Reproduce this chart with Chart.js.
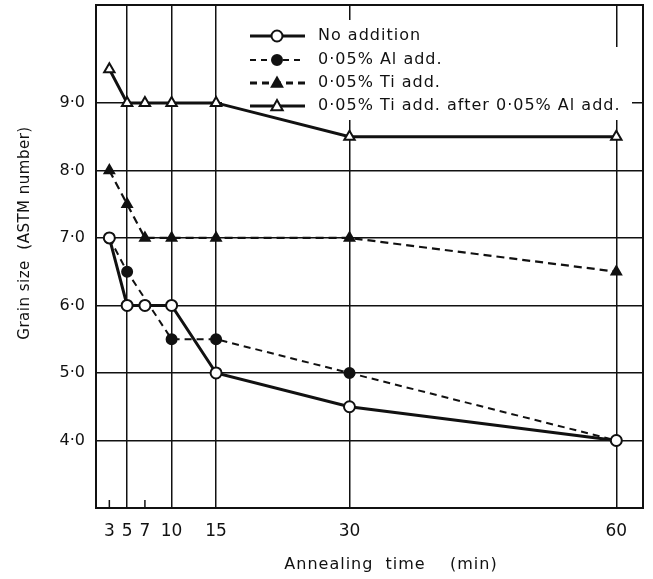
<!DOCTYPE html>
<html>
<head>
<meta charset="utf-8">
<script src="https://cdn.jsdelivr.net/npm/chart.js@4/dist/chart.umd.min.js"></script>
<style>
    html, body { margin: 0; padding: 0; background: #fff; }
    #wrap { width: 653px; height: 579px; position: relative; }
</style>
</head>
<body>
<div id="wrap"><canvas id="grainChart"></canvas></div>
<script>
// annealing times (min)
const times = [3, 5, 7, 10, 15, 30, 60];

// grain size (ASTM number) per series, null = no point
const noAddition = [7.0, 6.0, 6.0, 6.0, 5.0, 4.5, 4.0];
const alAdd      = [7.0, 6.5, null, 5.5, 5.5, 5.0, 4.0];
const tiAdd      = [8.0, 7.5, 7.0, 7.0, 7.0, 7.0, 6.5];
const tiAfterAl  = [9.5, 9.0, 9.0, 9.0, 9.0, 8.5, 8.5];

const seriesNames = [
    "No addition",
    "0·05% Al add.",
    "0·05% Ti add.",
    "0·05% Ti add. after 0·05% Al add."
];

const yTicks = [4, 5, 6, 7, 8, 9];
const xTicks = [3, 5, 7, 10, 15, 30, 60];

const FONT = "'DejaVu Sans', sans-serif";
const INK = "#111";

function toPoints(values) {
    return times
        .map((t, i) => ({ x: t, y: values[i] }))
        .filter(p => p.y !== null);
}

// legend look for each series
const legendStyles = [
    { dash: [], width: 3, marker: "circle", fill: "#fff", r: 5.5 },
    { dash: [6, 5], width: 2, marker: "circle", fill: INK, r: 5 },
    { dash: [7, 5], width: 3, marker: "triangle", fill: INK, r: 5.5 },
    { dash: [], width: 3, marker: "triangle", fill: "#fff", r: 6 }
];

function drawMarker(ctx, kind, x, y, r, fill) {
    ctx.save();
    ctx.setLineDash([]);
    ctx.lineWidth = 2;
    ctx.strokeStyle = INK;
    ctx.fillStyle = fill;
    ctx.beginPath();
    if (kind === "circle") {
        ctx.arc(x, y, r, 0, Math.PI * 2);
    } else {
        ctx.moveTo(x, y - r);
        ctx.lineTo(x + r * 0.95, y + r * 0.7);
        ctx.lineTo(x - r * 0.95, y + r * 0.7);
        ctx.closePath();
    }
    ctx.fill();
    ctx.stroke();
    ctx.restore();
}

/**
 * Legend box inside the plot (white, hides grid lines)
 */
const insideLegend = {
    id: "insideLegend",
    beforeDatasetsDraw(chart) {
        const ctx = chart.ctx;
        ctx.save();
        ctx.fillStyle = "#fff";
        ctx.fillRect(222, 20, 220, 100);
        ctx.fillRect(440, 47, 192, 73);

        const rows = [36, 60, 83, 106];
        rows.forEach((y, i) => {
            const s = legendStyles[i];
            ctx.strokeStyle = INK;
            ctx.lineWidth = s.width;
            ctx.setLineDash(s.dash);
            ctx.beginPath();
            ctx.moveTo(250, y);
            ctx.lineTo(305, y);
            ctx.stroke();
            drawMarker(ctx, s.marker, 277, y, s.r, s.fill);

            ctx.fillStyle = INK;
            ctx.font = `16px ${FONT}`;
            ctx.letterSpacing = "1px";
            ctx.textBaseline = "middle";
            ctx.textAlign = "left";
            ctx.fillText(seriesNames[i], 318, y);
        });
        ctx.restore();
    }
};

/**
 * Frame, small ticks and axis titles
 */
const frameAndTitles = {
    id: "frameAndTitles",
    afterDraw(chart) {
        const { ctx, chartArea: a, scales } = chart;
        ctx.save();
        ctx.strokeStyle = INK;
        ctx.lineWidth = 2;
        ctx.setLineDash([]);
        ctx.strokeRect(a.left, a.top, a.right - a.left, a.bottom - a.top);

        // short inward ticks at 3 and 7 min
        ctx.lineWidth = 1.5;
        [3, 7].forEach(v => {
            const x = scales.x.getPixelForValue(v);
            ctx.beginPath();
            ctx.moveTo(x, a.bottom);
            ctx.lineTo(x, a.bottom - 8);
            ctx.stroke();
        });

        ctx.fillStyle = INK;
        ctx.font = `16px ${FONT}`;
        ctx.letterSpacing = "1px";
        ctx.textAlign = "center";
        ctx.textBaseline = "middle";
        ctx.fillText("Annealing  time    (min)", 391, 565);

        ctx.font = `15px ${FONT}`;
        ctx.letterSpacing = "0.5px";
        ctx.translate(25, 233);
        ctx.rotate(-Math.PI / 2);
        ctx.fillText("Grain size  (ASTM number)", 0, 0);
        ctx.restore();
    }
};

function makeDataset(label, values, opts) {
    return Object.assign({
        label: label,
        data: toPoints(values),
        borderColor: INK,
        pointBorderColor: INK,
        pointBorderWidth: 2,
        tension: 0,
        fill: false
    }, opts);
}

// no label padding around the plot, the frame sits where we say
function noScalePadding(s) {
    s.paddingTop = 0;
    s.paddingBottom = 0;
    s.paddingLeft = 0;
    s.paddingRight = 0;
}

function initChart() {
    const ctx = document.getElementById("grainChart");
    if (!ctx) return;

    new Chart(ctx, {
        type: "line",
        data: {
            datasets: [
                makeDataset(seriesNames[0], noAddition, {
                    borderWidth: 3,
                    pointStyle: "circle",
                    pointRadius: 5.5,
                    pointBackgroundColor: "#fff"
                }),
                makeDataset(seriesNames[1], alAdd, {
                    borderWidth: 2,
                    borderDash: [7, 5],
                    pointStyle: "circle",
                    pointRadius: 5,
                    pointBackgroundColor: INK
                }),
                makeDataset(seriesNames[2], tiAdd, {
                    borderWidth: 2.2,
                    borderDash: [8, 5],
                    pointStyle: "triangle",
                    pointRadius: 5.5,
                    pointBackgroundColor: INK
                }),
                makeDataset(seriesNames[3], tiAfterAl, {
                    borderWidth: 3,
                    pointStyle: "triangle",
                    pointRadius: 6,
                    pointBackgroundColor: "#fff"
                })
            ]
        },
        options: {
            responsive: true,
            maintainAspectRatio: false,
            animation: false,
            layout: { autoPadding: false, padding: { top: 5, right: 10, left: 0, bottom: 0 } },
            plugins: {
                legend: { display: false },
                tooltip: { enabled: false }
            },
            scales: {
                x: {
                    type: "linear",
                    min: 1.5,
                    max: 63,
                    afterBuildTicks: s => { s.ticks = xTicks.map(v => ({ value: v })); },
                    afterFit: s => { s.height = 71; noScalePadding(s); },
                    grid: {
                        color: c => (c.tick && (c.tick.value === 3 || c.tick.value === 7)) ? "rgba(0,0,0,0)" : INK,
                        lineWidth: 1.5,
                        drawTicks: false
                    },
                    border: { display: true, color: INK, width: 2 },
                    ticks: {
                        autoSkip: false,
                        maxRotation: 0,
                        padding: 13,
                        color: INK,
                        font: { family: FONT, size: 17 }
                    }
                },
                y: {
                    min: 3,
                    max: 10.45,
                    afterBuildTicks: s => { s.ticks = yTicks.map(v => ({ value: v })); },
                    afterFit: s => { s.width = 96; noScalePadding(s); },
                    grid: { color: INK, lineWidth: 1.5, drawTicks: false },
                    border: { display: true, color: INK, width: 2 },
                    ticks: {
                        padding: 11,
                        color: INK,
                        font: { family: FONT, size: 16 },
                        callback: v => v.toFixed(1).replace(".", "·")
                    }
                }
            }
        },
        plugins: [insideLegend, frameAndTitles]
    });
}

initChart();
</script>
</body>
</html>
